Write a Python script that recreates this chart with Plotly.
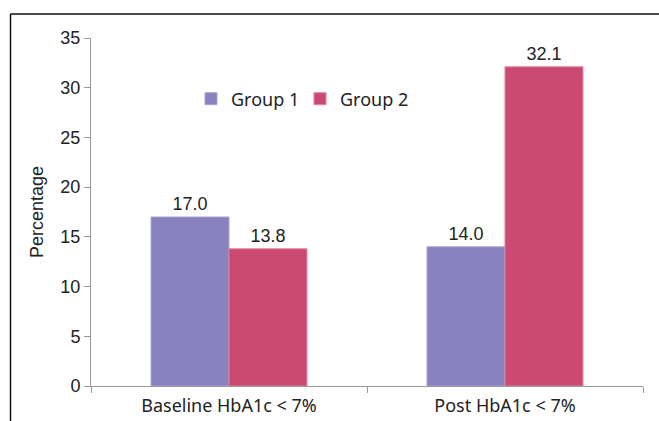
import plotly.graph_objects as go

categories = ["Baseline HbA1c < 7%", "Post HbA1c < 7%"]
group1 = [17.0, 14.0]
group2 = [13.8, 32.1]
series_names = ["Group 1", "Group 2"]

W, H = 659, 421
L, R, T, B = 91, 16, 38, 35
pw, ph = W - L - R, H - T - B

def px_x(x):
    return (x - L) / pw

def px_y(y):
    return (H - B - y) / ph

plex = "Noto Sans, Roboto, sans-serif"
arial = "Liberation Sans, Arial, sans-serif"

fig = go.Figure()
fig.add_trace(go.Bar(
    x=categories, y=group1, name=series_names[0],
    marker=dict(color="#8882BE", line=dict(color="#A9A4D6", width=1)),
    text=[f"{v:.1f}" for v in group1], textposition="outside",
    textfont=dict(size=18, color="#222", family=arial), cliponaxis=False,
))
fig.add_trace(go.Bar(
    x=categories, y=group2, name=series_names[1],
    marker=dict(color="#CB4A72", line=dict(color="#E07F9C", width=1)),
    text=[f"{v:.1f}" for v in group2], textposition="outside",
    textfont=dict(size=18, color="#222", family=arial), cliponaxis=False,
))

fig.update_layout(
    width=W, height=H,
    margin=dict(l=L, r=R, t=T, b=B),
    paper_bgcolor="white", plot_bgcolor="white",
    font=dict(family=plex, size=18, color="#222"),
    barmode="group", bargap=0.435, bargroupgap=0,
    showlegend=True,
    legend=dict(orientation="h", x=px_x(191), y=px_y(99), xanchor="left", yanchor="middle",
                font=dict(size=18, family=plex), bgcolor="rgba(0,0,0,0)",
                entrywidth=64, entrywidthmode="pixels", tracegroupgap=0),
    xaxis=dict(showline=True, linecolor="#999", linewidth=1, ticks="outside",
               tickson="boundaries", ticklen=6, tickcolor="#999", showgrid=False,
               automargin=False, ticklabelstandoff=3,
               tickfont=dict(size=18, family=plex, color="#222")),
    yaxis=dict(range=[0, 35], dtick=5, showline=True, linecolor="#999", linewidth=1,
               ticks="outside", ticklen=6, tickcolor="#999", showgrid=False, zeroline=False,
               automargin=False,
               tickfont=dict(size=18, family=arial, color="#222"),
               title=dict(text="Percentage", font=dict(size=18, family=arial, color="#222"),
                          standoff=12)),
    shapes=[
        dict(type="line", xref="paper", yref="paper", x0=px_x(10.5), x1=px_x(W + 5),
             y0=px_y(14), y1=px_y(14), line=dict(color="#111", width=1.5)),
        dict(type="line", xref="paper", yref="paper", x0=px_x(10.5), x1=px_x(10.5),
             y0=px_y(14), y1=px_y(H + 5), line=dict(color="#111", width=1.5)),
    ],
)

fig.write_html("out.html", config={"displayModeBar": False},
               post_script="document.body.style.margin='0';document.body.style.overflow='hidden';")
